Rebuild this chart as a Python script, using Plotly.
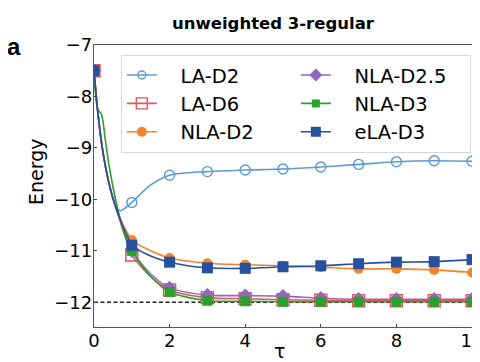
import plotly.graph_objects as go

# ---- data ----
TAU = [0, 0.1, 0.2, 0.3, 0.4, 0.5, 0.6, 0.7, 0.8, 0.9, 1, 1.5, 2, 3, 4, 5, 6, 7, 8, 9, 10]

LA_D2 = [-7.5, -8.3, -8.9, -9.35, -9.7, -9.98, -10.17, -10.22, -10.18, -10.12, -10.06,
         -9.72, -9.53, -9.46, -9.43, -9.41, -9.37, -9.32, -9.27, -9.25, -9.26]
LA_D6 = [-7.5, -8.3, -8.9, -9.35, -9.7, -9.98, -10.22, -10.45, -10.68, -10.89, -11.08,
         -11.5, -11.76, -11.91, -11.93, -11.95, -11.96, -11.97, -11.97, -11.97, -11.97]
NLA_D2 = [-7.5, -8.3, -8.9, -9.35, -9.7, -9.98, -10.2, -10.38, -10.54, -10.67, -10.79,
          -11.0, -11.14, -11.24, -11.27, -11.29, -11.32, -11.35, -11.35, -11.37, -11.42]
NLA_D25 = [-7.5, -8.3, -8.9, -9.35, -9.7, -9.98, -10.2, -10.42, -10.63, -10.82, -11.0,
           -11.45, -11.72, -11.86, -11.87, -11.88, -11.92, -11.94, -11.94, -11.94, -11.94]
NLA_D3 = [-7.5, -8.25, -8.35, -8.85, -9.35, -9.75, -10.1, -10.4, -10.65, -10.85, -11.0,
          -11.5, -11.8, -11.97, -11.98, -11.99, -11.99, -11.99, -11.99, -11.99, -11.99]
ELA_D3 = [-7.5, -8.3, -8.9, -9.35, -9.7, -9.98, -10.2, -10.4, -10.58, -10.74, -10.89,
          -11.1, -11.22, -11.33, -11.34, -11.31, -11.29, -11.25, -11.22, -11.21, -11.17]

NAMES = ["LA-D2", "LA-D6", "NLA-D2", "NLA-D2.5", "NLA-D3", "eLA-D3"]
SERIES = [LA_D2, LA_D6, NLA_D2, NLA_D25, NLA_D3, ELA_D3]
GROUND = -12.0

X_TICKS = [0, 2, 4, 6, 8, 10]
Y_TICKS = [-7, -8, -9, -10, -11, -12]
Y_TICK_TEXT = ["\u22127", "\u22128", "\u22129", "\u221210", "\u221211", "\u221212"]

# ---- styles ----
COLORS = ["#5b9bd0", "#e0575a", "#f5832a", "#9467bd", "#2ca02c", "#27509e"]
SYMBOLS = ["circle-open", "square-open", "circle", "diamond", "square", "square"]
SIZES = [10, 12, 10, 11, 10, 11]
LEGEND_SIZES = [8, 11, 10, 10, 8, 10]
LEGEND_RANK = [1, 3, 5, 2, 4, 6]
LEGEND_PAD = "\u00a0\u00a0\u00a0"

FONT = "DejaVu Sans"

fig = go.Figure()

for name, ys, col, sym, sz, lsz, rk in zip(NAMES, SERIES, COLORS, SYMBOLS, SIZES,
                                           LEGEND_SIZES, LEGEND_RANK):
    fig.add_trace(go.Scatter(x=TAU, y=ys, mode="lines", line=dict(color=col, width=1.6,
                             shape="spline", smoothing=0.8), showlegend=False,
                             hoverinfo="skip"))
    xi = [t for t in TAU if float(t).is_integer()]
    yi = [y for t, y in zip(TAU, ys) if float(t).is_integer()]
    mk = dict(color=col, symbol=sym, size=sz)
    if sym.endswith("open"):
        mk["line"] = dict(color=col, width=1.4)
    fig.add_trace(go.Scatter(x=xi, y=yi, mode="markers", marker=mk, showlegend=False,
                             name=name))
    lmk = dict(color=col, symbol=sym, size=lsz)
    if sym.endswith("open"):
        lmk["line"] = dict(color=col, width=1.4)
    fig.add_trace(go.Scatter(x=[None], y=[None], mode="lines+markers",
                             name=LEGEND_PAD + name,
                             line=dict(color=col, width=1.6), marker=lmk, legendrank=rk))

fig.add_shape(type="line", xref="x domain", yref="y", x0=0, x1=1, y0=GROUND, y1=GROUND,
              line=dict(color="#222", width=1.5, dash="4px,2.5px"), layer="below")

# page body adds an 8px offset, so the figure is 8px smaller than the window
fig.update_layout(
    width=472, height=354,
    margin=dict(l=86, r=8, t=37, b=35),
    paper_bgcolor="white", plot_bgcolor="white",
    font=dict(family=FONT, size=18, color="black"),
    showlegend=True,
    legend=dict(orientation="h", x=0.071, y=0.965, xanchor="left", yanchor="top",
                entrywidth=129, bgcolor="rgba(255,255,255,0.85)",
                bordercolor="#d8d8d8", borderwidth=1,
                font=dict(family=FONT, size=19.5), tracegroupgap=0),
)

fig.update_xaxes(range=[0, 10], tickvals=X_TICKS, ticks="inside", ticklen=3,
                 tickcolor="#444", showline=True, linecolor="#555", linewidth=1.3,
                 mirror=True, showgrid=False, zeroline=False, automargin=False,
                 ticklabeloverflow="allow", ticklabelstandoff=-3)
fig.update_yaxes(range=[-12.48, -7], tickvals=Y_TICKS, ticktext=Y_TICK_TEXT,
                 ticks="inside", ticklen=3, tickcolor="#444", showline=True,
                 linecolor="#555", linewidth=1.3, mirror=True, showgrid=False,
                 zeroline=False, automargin=False, ticklabeloverflow="allow",
                 ticklabelstandoff=-3)

fig.add_annotation(text="Energy", xref="paper", yref="paper", x=0, y=0.5496,
                   xshift=-58, showarrow=False, textangle=-90,
                   font=dict(family=FONT, size=19), xanchor="center", yanchor="middle")
fig.add_annotation(text="τ", xref="paper", yref="paper", x=0.492, y=0,
                   yshift=-24, showarrow=False,
                   font=dict(family=FONT, size=19), xanchor="center", yanchor="middle")
fig.add_annotation(text="<b>unweighted 3-regular</b>", xref="paper", yref="paper",
                   x=0.474, y=1.0, yshift=21.5, showarrow=False,
                   font=dict(family=FONT, size=16.5), xanchor="center", yanchor="middle")
fig.add_annotation(text="<b>a</b>", xref="paper", yref="paper", x=0, y=1,
                   xshift=-89, yshift=-1, showarrow=False,
                   font=dict(family="Liberation Sans", size=24), xanchor="left",
                   yanchor="middle")

fig.write_html("out.html")
